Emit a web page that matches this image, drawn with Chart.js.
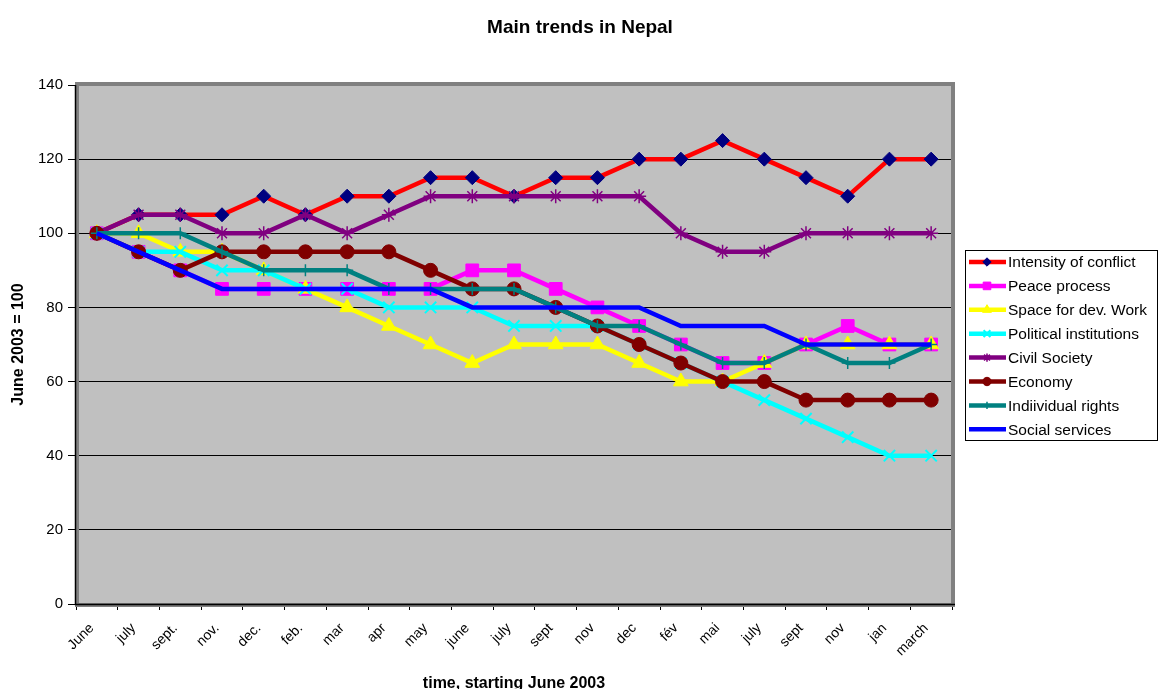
<!DOCTYPE html>
<html>
<head>
<meta charset="utf-8">
<script src="https://cdn.jsdelivr.net/npm/chart.js@4.4.0/dist/chart.umd.min.js"></script>
<style>
  html, body { margin: 0; padding: 0; background: #fff; }
  #grafica { display: block; }
</style>
</head>
<body>
<canvas id="grafica" width="1158" height="689"></canvas>
<script>
// categorias del eje x (meses desde junio 2003)
const meses = ['June', 'july', 'sept.', 'nov.', 'dec.', 'feb.', 'mar', 'apr', 'may', 'june',
    'july', 'sept', 'nov', 'dec', 'fév', 'mai', 'july', 'sept', 'nov', 'jan', 'march'];

const intensidadConflicto = [100, 105, 105, 105, 110, 105, 110, 110, 115, 115, 110, 115, 115, 120, 120, 125, 120, 115, 110, 120, 120];
const procesoPaz = [100, 95, 90, 85, 85, 85, 85, 85, 85, 90, 90, 85, 80, 75, 70, 65, 65, 70, 75, 70, 70];
const espacioDesarrollo = [100, 100, 95, 95, 90, 85, 80, 75, 70, 65, 70, 70, 70, 65, 60, 60, 65, 70, 70, 70, 70];
const institucionesPoliticas = [100, 95, 95, 90, 90, 85, 85, 80, 80, 80, 75, 75, 75, 70, 65, 60, 55, 50, 45, 40, 40];
const sociedadCivil = [100, 105, 105, 100, 100, 105, 100, 105, 110, 110, 110, 110, 110, 110, 100, 95, 95, 100, 100, 100, 100];
const economia = [100, 95, 90, 95, 95, 95, 95, 95, 90, 85, 85, 80, 75, 70, 65, 60, 60, 55, 55, 55, 55];
const derechosIndividuales = [100, 100, 100, 95, 90, 90, 90, 85, 85, 85, 85, 80, 75, 75, 70, 65, 65, 70, 65, 65, 70];
const serviciosSociales = [100, 95, 90, 85, 85, 85, 85, 85, 85, 80, 80, 80, 80, 80, 75, 75, 75, 70, 70, 70, 70];

const ticksY = [0, 20, 40, 60, 80, 100, 120, 140];

const fuente = "'Liberation Sans', Arial, sans-serif";

function serie(nombre, datos, color, estilo, relleno, borde, radio, anchoBorde, orden) {
    return {
        label: nombre,
        data: datos,
        borderColor: color,
        backgroundColor: color,
        borderWidth: 4.5,
        tension: 0,
        pointStyle: estilo,
        pointRadius: radio,
        pointBackgroundColor: relleno,
        pointBorderColor: borde,
        pointBorderWidth: anchoBorde,
        order: orden
    };
}

const series = [
    serie('Intensity of conflict', intensidadConflicto, '#FF0000', 'rectRot', '#000080', '#000080', 7, 1, 7),
    serie('Peace process', procesoPaz, '#FF00FF', 'rect', '#FF00FF', '#FF00FF', 9, 1, 6),
    serie('Space for dev. Work', espacioDesarrollo, '#FFFF00', 'triangle', '#FFFF00', '#FFFF00', 8.5, 1, 5),
    serie('Political institutions', institucionesPoliticas, '#00FFFF', 'crossRot', '#00FFFF', '#00FFFF', 8, 2, 4),
    serie('Civil Society', sociedadCivil, '#800080', 'star', '#800080', '#800080', 7, 1.5, 3),
    serie('Economy', economia, '#800000', 'circle', '#800000', '#800000', 7, 1, 2),
    serie('Indiividual rights', derechosIndividuales, '#008080', 'cross', '#008080', '#008080', 6, 1.5, 1),
    serie('Social services', serviciosSociales, '#0000FF', false, '#0000FF', '#0000FF', 0, 0, 0)
];

// fondo gris y marco del area de trazado, titulo y leyenda
const fondoPlot = {
    id: 'fondoPlot',
    beforeDraw(chart) {
        const { ctx, chartArea: a } = chart;
        ctx.save();
        ctx.fillStyle = '#C0C0C0';
        ctx.fillRect(a.left, a.top, a.right - a.left, a.bottom - a.top);
        ctx.restore();
    },
    beforeDatasetsDraw(chart) {
        const { ctx, chartArea: a } = chart;
        ctx.save();
        ctx.strokeStyle = '#808080';
        ctx.lineWidth = 4;
        ctx.strokeRect(a.left + 1, a.top - 1, a.right - a.left, a.bottom - a.top + 2);
        ctx.strokeStyle = '#000';
        ctx.lineWidth = 1.5;
        ctx.beginPath();
        ctx.moveTo(a.left - 0.5, a.top);
        ctx.lineTo(a.left - 0.5, a.bottom + 0.5);
        ctx.lineTo(a.right + 3, a.bottom + 0.5);
        ctx.stroke();
        ctx.restore();
    },
    afterDraw(chart) {
        const { ctx } = chart;
        ctx.save();
        // titulo
        ctx.fillStyle = '#000';
        ctx.font = 'bold 19px ' + fuente;
        ctx.textAlign = 'center';
        ctx.textBaseline = 'middle';
        ctx.fillText('Main trends in Nepal', 580, 28);

        // leyenda
        const x0 = 965, y0 = 250, w = 192, h = 190;
        ctx.fillStyle = '#fff';
        ctx.fillRect(x0, y0, w, h);
        ctx.strokeStyle = '#000';
        ctx.lineWidth = 1;
        ctx.strokeRect(x0 + 0.5, y0 + 0.5, w, h);
        ctx.font = '15.5px ' + fuente;
        ctx.textAlign = 'left';
        chart.data.datasets.forEach((ds, i) => {
            const y = 262 + i * 23.9;
            ctx.strokeStyle = ds.borderColor;
            ctx.lineWidth = 4.5;
            ctx.beginPath();
            ctx.moveTo(969, y);
            ctx.lineTo(1006, y);
            ctx.stroke();
            if (ds.pointStyle) {
                ctx.fillStyle = ds.pointBackgroundColor;
                ctx.strokeStyle = ds.pointBorderColor;
                ctx.lineWidth = ds.pointBorderWidth;
                Chart.helpers.drawPoint(ctx, { pointStyle: ds.pointStyle, radius: ds.pointRadius * 0.6, rotation: 0, borderWidth: ds.pointBorderWidth }, 987, y);
            }
            ctx.fillStyle = '#000';
            ctx.fillText(ds.label, 1008, y + 1);
        });
        ctx.restore();
    }
};

const ctx = document.getElementById('grafica').getContext('2d');
new Chart(ctx, {
    type: 'line',
    data: {
        labels: meses,
        datasets: series
    },
    options: {
        responsive: false,
        animation: false,
        layout: { padding: { top: 85, right: 206, left: 0, bottom: 0 } },
        plugins: {
            legend: { display: false },
            title: { display: false },
            tooltip: { enabled: false }
        },
        scales: {
            x: {
                type: 'category',
                offset: true,
                grid: { offset: true, drawOnChartArea: false, drawTicks: true, tickLength: 6, color: '#000' },
                border: { display: false },
                ticks: {
                    color: '#000',
                    font: { family: fuente, size: 14 },
                    maxRotation: 45,
                    minRotation: 45,
                    autoSkip: false,
                    padding: 10,
                    labelOffset: -5
                },
                title: {
                    display: true,
                    text: 'time, starting June 2003',
                    color: '#000',
                    font: { family: fuente, size: 16, weight: 'bold' },
                    padding: { top: 0, bottom: -4 }
                },
                afterFit(scale) { scale.height = 85; }
            },
            y: {
                min: 0,
                max: 140,
                afterBuildTicks(scale) { scale.ticks = ticksY.map(v => ({ value: v })); },
                ticks: {
                    color: '#000',
                    font: { family: fuente, size: 15 },
                    padding: 5
                },
                grid: { color: '#000', lineWidth: 1, drawTicks: true, tickLength: 8 },
                border: { display: false },
                title: {
                    display: true,
                    text: 'June 2003 = 100',
                    color: '#000',
                    font: { family: fuente, size: 16, weight: 'bold' },
                    padding: { top: 9, bottom: 0 }
                },
                afterFit(scale) { scale.width = 76; }
            }
        }
    },
    plugins: [fondoPlot]
});
</script>
</body>
</html>
